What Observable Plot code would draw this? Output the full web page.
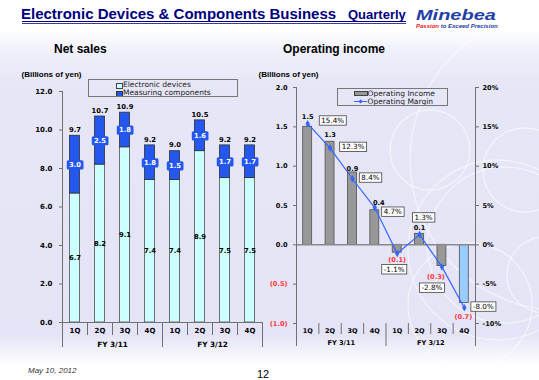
<!DOCTYPE html>
<html>
<head>
<meta charset="utf-8">
<script src="https://cdn.jsdelivr.net/npm/d3@7"></script>
<script src="https://cdn.jsdelivr.net/npm/@observablehq/plot@0.6"></script>
<style>
html,body{margin:0;padding:0;}
body{width:539px;height:380px;overflow:hidden;background:#fff;}
#slide{position:relative;width:539px;height:380px;overflow:hidden;font-family:"Liberation Sans",Arial,sans-serif;
  background:linear-gradient(to bottom,#ffffff 0px,#ffffff 30px,#f0f0fb 50px,#e6e6f7 85px,#e4e4f6 335px,#ffffff 366px);}
.abs{position:absolute;white-space:nowrap;line-height:1;}
.chart{position:absolute;}
.legend{position:absolute;border:1px solid #777;box-sizing:border-box;font-family:"DejaVu Sans",Verdana,sans-serif;font-size:7.5px;color:#222;overflow:hidden;}
</style>
</head>
<body>
<div id="slide">
  <svg class="abs" style="left:0;top:0" width="539" height="380">
    <g fill="none" stroke="#ffffff" stroke-opacity="0.55" stroke-width="1.3">
      <circle cx="525" cy="170" r="42"/>
      <circle cx="505" cy="245" r="78"/>
      <circle cx="498" cy="250" r="90"/>
      <circle cx="470" cy="305" r="62"/>
      <circle cx="545" cy="275" r="38"/>
      <circle cx="560" cy="160" r="150"/>
      <circle cx="430" cy="150" r="40"/>
    </g>
  </svg>
  <div class="abs" style="left:21px;top:6.3px;font-size:15px;font-weight:bold;color:#000080;">Electronic Devices &amp; Components Business</div>
  <div class="abs" style="left:348px;top:8px;font-size:13px;font-weight:bold;color:#000080;">Quarterly</div>
  <div class="abs" style="left:22px;top:20.6px;width:384px;height:1.6px;background:#000080;"></div>
  <div class="abs" style="left:22px;top:23.2px;width:384px;height:1px;background:#3a3aa8;"></div>
  <div class="abs" style="left:416px;top:7px;font-size:15px;font-weight:bold;font-style:italic;color:#1E3FA8;transform:scaleX(1.33);transform-origin:left top;">Minebea</div>
  <div class="abs" style="left:416px;top:22.6px;font-size:6px;font-weight:bold;font-style:italic;color:#1E3FA8;"><span style="color:#E8202A">Passion</span> to Exceed Precision</div>

  <div class="abs" style="left:54px;top:43.3px;font-size:12px;font-weight:bold;color:#000;">Net sales</div>
  <div class="abs" style="left:283px;top:43.3px;font-size:12px;font-weight:bold;color:#000;">Operating income</div>
  <div class="abs" style="left:21.5px;top:70.7px;font-size:8px;font-weight:bold;color:#000;">(Billions of yen)</div>
  <div class="abs" style="left:258.5px;top:70.7px;font-size:8px;font-weight:bold;color:#000;">(Billions of yen)</div>

  <div id="leftChart" class="chart" style="left:0;top:60px;"></div>
  <div id="rightChart" class="chart" style="left:255px;top:60px;"></div>

  <div class="legend" style="left:88px;top:79px;width:150px;height:18px;">
    <div class="abs" style="left:27px;top:2.6px;width:5px;height:4px;background:#CCFFFF;border:0.8px solid #444;"></div>
    <div class="abs" style="left:34px;top:0.8px;">Electronic devices</div>
    <div class="abs" style="left:27px;top:10.8px;width:5px;height:4px;background:#2457EE;border:0.8px solid #333;"></div>
    <div class="abs" style="left:34px;top:8.8px;">Measuring components</div>
  </div>
  <div class="legend" style="left:337px;top:88px;width:111px;height:18px;">
    <div class="abs" style="left:16px;top:2.3px;width:12px;height:3px;background:#989898;border:0.8px solid #444;"></div>
    <div class="abs" style="left:29.5px;top:0.6px;">Operating Income</div>
    <div class="abs" style="left:16px;top:11.6px;width:13px;height:1.2px;background:#3366FF;"></div>
    <div class="abs" style="left:20.5px;top:10.6px;width:3.2px;height:3.2px;background:#3366FF;transform:rotate(45deg);"></div>
    <div class="abs" style="left:29.5px;top:8.6px;">Operating Margin</div>
  </div>

  <div class="abs" style="left:28px;top:366.5px;font-size:8px;font-style:italic;color:#333;">May 10, 2012</div>
  <div class="abs" style="left:257px;top:369px;font-size:11px;color:#000;">12</div>
</div>

<script>
// ---------- data ----------
const quarters = ["1Q", "2Q", "3Q", "4Q", "1Q", "2Q", "3Q", "4Q"];
const fiscalYears = ["FY 3/11", "FY 3/12"];
const electronicDevices = [6.7, 8.2, 9.1, 7.4, 7.4, 8.9, 7.5, 7.5];
const measuringComponents = [3.0, 2.5, 1.8, 1.8, 1.5, 1.6, 1.7, 1.7];
const netSalesTotal = [9.7, 10.7, 10.9, 9.2, 9.0, 10.5, 9.2, 9.2];
const salesTicks = [0, 2, 4, 6, 8, 10, 12];
const operatingIncome = [1.50, 1.31, 0.92, 0.44, -0.10, 0.14, -0.27, -0.74];
const operatingMargin = [15.4, 12.3, 8.4, 4.7, -1.1, 1.3, -2.8, -8.0];
const incomeTicks = [-1, -0.5, 0, 0.5, 1, 1.5, 2];
const marginTicks = [-10, -5, 0, 5, 10, 15, 20];

// ---------- label placement (layout only) ----------
const incomeLabelOffset = [[0,-10],[0,-7],[0,-4],[4,-7],[0,7],[0,-6],[-6,11],[-1,14]];
const marginLabelOffset = [[25,-3],[23,-1],[18,-1],[18,4],[-3,16],[4,-17],[-10,21],[19,-1]];

const FONT = "'DejaVu Sans', Verdana, sans-serif";
const BLUE = "#2457EE";
const AX = "#707070";

const salesRows = quarters.map((q, i) => ({i, q, ed: electronicDevices[i], mc: measuringComponents[i], total: netSalesTotal[i]}));
const incomeRows = quarters.map((q, i) => ({i, q, v: operatingIncome[i], m: operatingMargin[i]}));
const xc = d => d.i + 0.5;

const left = Plot.plot({
  width: 270, height: 290, marginTop: 31, marginBottom: 28, marginLeft: 62, marginRight: 8,
  style: {background: "transparent", overflow: "visible", fontFamily: FONT},
  x: {domain: [0, 8], axis: null},
  y: {domain: [0, 12], axis: null},
  marks: [
    Plot.rectY(salesRows, {x1: d => d.i + 0.3, x2: d => d.i + 0.7, y1: 0, y2: "ed", fill: "#CCFFFF", stroke: "#505050", strokeWidth: 0.8}),
    Plot.rectY(salesRows, {x1: d => d.i + 0.3, x2: d => d.i + 0.7, y1: "ed", y2: d => d.ed + d.mc, fill: BLUE, stroke: "#303030", strokeWidth: 0.8}),
    Plot.ruleY([0], {stroke: AX}),
    Plot.ruleX([0], {stroke: AX}),
    Plot.axisY({ticks: salesTicks, tickFormat: d => d.toFixed(1), tickSize: 3, tickPadding: 7, fontSize: 7, fontWeight: "bold", stroke: AX, fill: "#000", label: null}),
    Plot.axisX({ticks: [0, 4, 8], tickSize: 25, tickFormat: () => "", stroke: AX, label: null}),
    Plot.axisX({ticks: [1, 2, 3, 5, 6, 7], tickSize: 13, tickFormat: () => "", stroke: AX, label: null}),
    Plot.axisX({ticks: quarters.map((_, i) => i + 0.5), tickSize: 0, tickPadding: 6, tickFormat: d => quarters[Math.floor(d)], fontSize: 7, fontWeight: "bold", fill: "#000", label: null}),
    Plot.axisX({ticks: fiscalYears.map((_, k) => 4 * k + 2), tickSize: 0, tickPadding: 19.5, tickFormat: d => fiscalYears[(d - 2) / 4], fontSize: 7.3, fontWeight: "bold", fill: "#000", label: null}),
    Plot.text(salesRows, {x: xc, y: d => d.ed / 2, text: d => d.ed.toFixed(1), fontSize: 6.8, fontWeight: "bold", fill: "#000"}),
    Plot.text(salesRows, {x: xc, y: d => d.ed + d.mc / 2, text: d => d.mc.toFixed(1), fontSize: 6.8, fontWeight: "bold", fill: "#fff", ariaDescription: "mc-label"}),
    Plot.text(salesRows, {x: xc, y: d => d.ed + d.mc, dy: -6, text: d => d.total.toFixed(1), fontSize: 6.8, fontWeight: "bold", fill: "#000"})
  ]
});

const fmtIncome = v => v < 0 ? "(" + Math.abs(v).toFixed(1) + ")" : v.toFixed(1);

const right = Plot.plot({
  width: 284, height: 290, marginTop: 27, marginBottom: 27, marginLeft: 41, marginRight: 64,
  style: {background: "transparent", overflow: "visible", fontFamily: FONT},
  x: {domain: [0, 8], axis: null},
  y: {domain: [-1, 2], axis: null},
  marks: [
    Plot.rectY(incomeRows, {x1: d => d.i + 0.3, x2: d => d.i + 0.7, y1: 0, y2: "v",
      fill: d => d.i === incomeRows.length - 1 ? "#99CCFF" : "#989898", stroke: "#505050", strokeWidth: 0.8}),
    Plot.ruleY([0], {stroke: "#8a8a8a", strokeWidth: 1.5}),
    Plot.ruleX([0, 8], {stroke: AX}),
    Plot.axisY({ticks: incomeTicks.filter(v => v >= 0), tickFormat: fmtIncome, tickSize: 3, tickPadding: 6, fontSize: 6.6, fontWeight: "bold", stroke: AX, fill: "#000", label: null}),
    Plot.axisY({ticks: incomeTicks.filter(v => v < 0), tickFormat: fmtIncome, tickSize: 3, tickPadding: 6, fontSize: 6.6, fontWeight: "bold", stroke: AX, fill: "#FF3333", label: null}),
    Plot.axisY({anchor: "right", ticks: marginTicks.map(p => p / 10), tickFormat: v => Math.round(v * 10) + "%", tickSize: 3, tickPadding: 4, fontSize: 6.6, fontWeight: "bold", stroke: AX, fill: "#000", label: null}),
    Plot.axisX({ticks: [0, 4, 8], tickSize: 23, tickFormat: () => "", stroke: AX, label: null}),
    Plot.axisX({ticks: [1, 2, 3, 5, 6, 7], tickSize: 11, tickFormat: () => "", stroke: AX, label: null}),
    Plot.axisX({ticks: quarters.map((_, i) => i + 0.5), tickSize: 0, tickPadding: 5, tickFormat: d => quarters[Math.floor(d)], fontSize: 6.5, fontWeight: "bold", fill: "#000", label: null}),
    Plot.axisX({ticks: fiscalYears.map((_, k) => 4 * k + 2), tickSize: 0, tickPadding: 16.5, tickFormat: d => fiscalYears[(d - 2) / 4], fontSize: 6.6, fontWeight: "bold", fill: "#000", label: null}),
    Plot.line(incomeRows, {x: xc, y: d => d.m / 10, stroke: "#3366FF", strokeWidth: 1.2}),
    Plot.dot(incomeRows, {x: xc, y: d => d.m / 10, symbol: "diamond", r: 2.3, fill: "#3366FF", stroke: "none"}),
    ...incomeRows.map((d, k) => Plot.text([d], {x: xc, y: "v", dx: incomeLabelOffset[k][0], dy: incomeLabelOffset[k][1],
      text: r => fmtIncome(r.v), fontSize: 6.6, fontWeight: "bold", fill: d.v < 0 ? "#FF3333" : "#000"})),
    ...incomeRows.map((d, k) => Plot.text([d], {x: xc, y: r => r.m / 10, dx: marginLabelOffset[k][0], dy: marginLabelOffset[k][1],
      text: r => r.m.toFixed(1) + "%", fontSize: 7.2, fill: "#000", ariaDescription: "margin-label"}))
  ]
});

document.getElementById("leftChart").appendChild(left);
document.getElementById("rightChart").appendChild(right);

function boxLabels(svg, desc, fill, stroke, padX, padY, rx) {
  svg.querySelectorAll('g[aria-description="' + desc + '"]').forEach(g => {
    g.querySelectorAll("text").forEach(t => {
      const b = t.getBBox();
      const r = document.createElementNS("http://www.w3.org/2000/svg", "rect");
      r.setAttribute("x", b.x - padX);
      r.setAttribute("y", b.y - padY);
      r.setAttribute("width", b.width + 2 * padX);
      r.setAttribute("height", b.height + 2 * padY);
      r.setAttribute("rx", rx);
      r.setAttribute("fill", fill);
      r.setAttribute("stroke", stroke);
      r.setAttribute("stroke-width", 0.8);
      const tr = t.getAttribute("transform");
      if (tr) r.setAttribute("transform", tr);
      g.insertBefore(r, t);
    });
  });
}
boxLabels(left, "mc-label", BLUE, "none", 2.2, 0.6, 1.5);
boxLabels(right, "margin-label", "#ffffff", "#444", 2, 0.2, 0);
</script>
</body>
</html>
